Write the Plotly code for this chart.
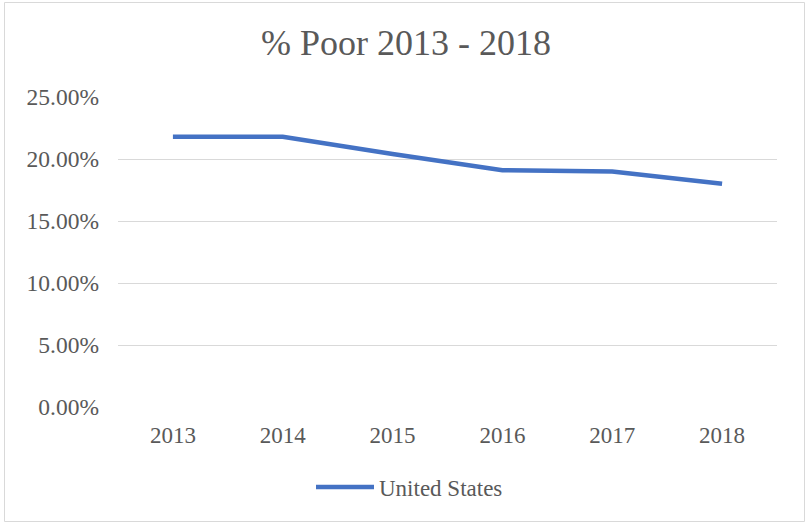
import plotly.graph_objects as go

# Share of population classed as poor, by year
years = ["2013", "2014", "2015", "2016", "2017", "2018"]
pct_poor = [0.218, 0.218, 0.204, 0.191, 0.190, 0.180]
series_name = "United States"
y_ticks = [0, 0.05, 0.10, 0.15, 0.20, 0.25]

W, H = 806, 524
L, R, T, B = 118, 29, 97, 117

text_grey = "#595959"
grid_grey = "#D9D9D9"
line_blue = "#4472C4"
serif = "'Times New Roman', Tinos, 'Liberation Serif', 'DejaVu Serif', serif"

fig = go.Figure()
fig.add_trace(go.Scatter(
    x=years, y=pct_poor, mode="lines", name=series_name,
    line=dict(color=line_blue, width=4.5),
))

# outer chart border, in paper coordinates
pw, ph = W - L - R, H - T - B
def px_x(v):
    return (v - L) / pw
def px_y(v):
    return (H - B - v) / ph

fig.add_shape(type="rect", xref="paper", yref="paper",
              x0=px_x(4.5), x1=px_x(804.5), y0=px_y(521.5), y1=px_y(2.5),
              line=dict(color=grid_grey, width=1), fillcolor="rgba(0,0,0,0)",
              layer="below")

fig.update_layout(
    width=W, height=H, autosize=False,
    margin=dict(l=L, r=R, t=T, b=B),
    paper_bgcolor="white", plot_bgcolor="white",
    font=dict(family=serif, color=text_grey, size=23),
    title=dict(text="% Poor 2013 - 2018", x=406 / W, xref="container",
               y=1 - 42 / H, yref="container", xanchor="center", yanchor="middle",
               font=dict(size=36, color=text_grey, family=serif)),
    showlegend=True,
    legend=dict(orientation="h", xref="container", yref="container",
                x=409.5 / W, y=1 - 487 / H, xanchor="center", yanchor="middle",
                itemwidth=58, font=dict(size=23, color=text_grey, family=serif),
                bgcolor="rgba(0,0,0,0)"),
    xaxis=dict(type="category", range=[-0.5, len(years) - 0.5],
               showgrid=False, zeroline=False, showline=False,
               ticks="", ticklabelstandoff=12,
               tickfont=dict(size=23, family=serif)),
    yaxis=dict(range=[0, 0.25], tickvals=y_ticks, tickformat=".2%",
               showgrid=True, gridcolor=grid_grey, gridwidth=1.3,
               zeroline=False, showline=False, ticks="",
               ticklabelstandoff=18, tickfont=dict(size=23.5, family=serif)),
)

fig.write_html("out.html")
